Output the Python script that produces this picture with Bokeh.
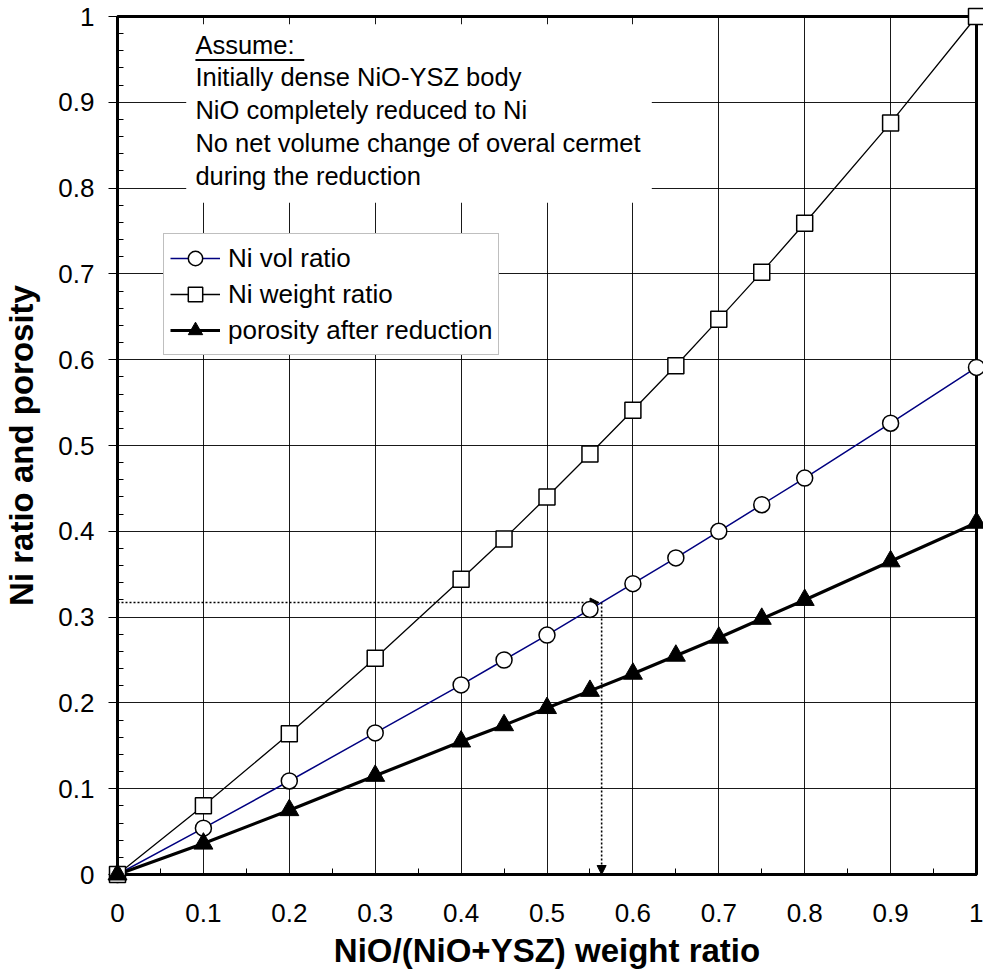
from bokeh.plotting import figure
from bokeh.models import (Range1d, FixedTicker, Legend, LegendItem, BoxAnnotation,
                          Label, Arrow, NormalHead)
from bokeh.embed import file_html
from bokeh.resources import INLINE

# ---- data ----
nio_wt = [0, 0.1, 0.2, 0.3, 0.4, 0.45, 0.5, 0.55, 0.6, 0.65, 0.7, 0.75, 0.8, 0.9, 1.0]
ni_vol_ratio = [0, 0.054, 0.109, 0.165, 0.221, 0.250, 0.279, 0.309, 0.339, 0.369,
                0.400, 0.431, 0.462, 0.526, 0.591]
ni_weight_ratio = [0, 0.080, 0.164, 0.252, 0.344, 0.391, 0.440, 0.490, 0.541, 0.593,
                   0.647, 0.702, 0.759, 0.876, 1.0]
porosity = [0, 0.036, 0.075, 0.115, 0.155, 0.174, 0.194, 0.214, 0.234, 0.255,
            0.276, 0.298, 0.320, 0.365, 0.410]

series_names = ["Ni vol ratio", "Ni weight ratio", "porosity after reduction"]

x_ticks = [0, 0.1, 0.2, 0.3, 0.4, 0.5, 0.6, 0.7, 0.8, 0.9, 1.0]
x_tick_labels = ["0", "0.1", "0.2", "0.3", "0.4", "0.5", "0.6", "0.7", "0.8", "0.9", "1"]
x_minor = [0.05, 0.15, 0.25, 0.35, 0.45, 0.55, 0.65, 0.75, 0.85, 0.95]
y_ticks = [0, 0.1, 0.2, 0.3, 0.4, 0.5, 0.6, 0.7, 0.8, 0.9, 1.0]
y_tick_labels = ["0", "0.1", "0.2", "0.3", "0.4", "0.5", "0.6", "0.7", "0.8", "0.9", "1"]
y_minor = [round(i * 0.02, 2) for i in range(51) if i % 5 != 0]

note_lines = ["Assume: ", "Initially dense NiO-YSZ body", "NiO completely reduced to Ni",
              "No net volume change of overal cermet", "during the reduction"]

read_y = 0.317   # dotted guide: Ni vol ratio level
read_x = 0.5636  # dotted guide: corresponding NiO weight ratio

x_title = "NiO/(NiO+YSZ) weight ratio"
y_title = "Ni ratio and porosity"

FONT = "Liberation Sans"

p = figure(width=983, height=976, output_backend="svg", toolbar_location=None,
           x_range=Range1d(0, 1), y_range=Range1d(0, 1),
           min_border_left=117, min_border_right=7, min_border_top=16, min_border_bottom=102,
           background_fill_color="white", border_fill_color="white")

p.outline_line_color = "black"
p.outline_line_width = 3

# axes
for ax, ticks, labels, minor in ((p.xaxis[0], x_ticks, x_tick_labels, x_minor),
                                 (p.yaxis[0], y_ticks, y_tick_labels, y_minor)):
    ax.ticker = FixedTicker(ticks=ticks, minor_ticks=minor)
    ax.major_label_overrides = {t: l for t, l in zip(ticks, labels)}
    ax.axis_line_width = 3
    ax.axis_line_color = "black"
    ax.major_tick_line_color = "black"
    ax.major_tick_line_width = 1
    ax.minor_tick_line_color = "black"
    ax.minor_tick_line_width = 1
    ax.minor_tick_in = 6
    ax.minor_tick_out = 0
    ax.major_label_text_font = FONT
    ax.major_label_text_font_size = "26px"
    ax.major_label_text_color = "black"
    ax.axis_label_text_font = FONT
    ax.axis_label_text_font_size = "33px"
    ax.axis_label_text_font_style = "bold"
    ax.axis_label_text_color = "black"

p.xaxis.major_tick_in = 0
p.xaxis.major_tick_out = 0
p.xaxis.major_label_standoff = 29
p.xaxis.axis_label = x_title
p.xaxis.axis_label_standoff = 7

p.yaxis.major_tick_in = 0
p.yaxis.major_tick_out = 9
p.yaxis.major_label_standoff = 14
p.yaxis.axis_label = y_title
p.yaxis.axis_label_standoff = 15

p.xgrid.ticker = FixedTicker(ticks=x_ticks)
p.ygrid.ticker = FixedTicker(ticks=y_ticks)
p.grid.grid_line_color = "black"
p.grid.grid_line_width = 1
p.grid.grid_line_alpha = 0.9

# series
vol_line = p.line(nio_wt, ni_vol_ratio, line_color="#000080", line_width=1.5)
vol_pts = p.scatter(nio_wt, ni_vol_ratio, marker="circle", size=16, fill_color="white",
                    line_color="black", line_width=1.5, level="overlay")
wt_line = p.line(nio_wt, ni_weight_ratio, line_color="black", line_width=1.3)
wt_pts = p.scatter(nio_wt, ni_weight_ratio, marker="square", size=16, fill_color="white",
                   line_color="black", line_width=1.5, level="overlay")
por_line = p.line(nio_wt, porosity, line_color="black", line_width=3.2)
por_pts = p.scatter(nio_wt, porosity, marker="triangle", size=19, fill_color="black",
                    line_color="black", line_width=1, level="overlay")

legend = Legend(items=[
    LegendItem(label=series_names[0], renderers=[vol_line, vol_pts]),
    LegendItem(label=series_names[1], renderers=[wt_line, wt_pts]),
    LegendItem(label=series_names[2], renderers=[por_line, por_pts]),
], location=(46, 519), margin=0, padding=6, spacing=0,
    glyph_width=50, glyph_height=36, label_height=36, label_standoff=8,
    label_text_font=FONT, label_text_font_size="26px", label_text_color="black",
    border_line_color="#808080", border_line_width=1,
    background_fill_color="white", background_fill_alpha=1.0)
p.add_layout(legend, "center")

# assumption note box
p.add_layout(BoxAnnotation(left=0.080, right=0.622, top=0.991, bottom=0.783,
                           fill_color="white", fill_alpha=1.0, line_alpha=0))
note_x = 0.0907
note_baselines = [0.967, 0.929, 0.891, 0.852, 0.814]
for txt, yb in zip(note_lines, note_baselines):
    p.add_layout(Label(x=note_x, y=yb, text=txt, text_font=FONT, text_font_size="25.5px",
                       text_color="black", text_baseline="alphabetic", text_align="left"))
p.add_layout(BoxAnnotation(left=note_x, right=0.2174, top=0.9505, bottom=0.948,
                           fill_color="black", fill_alpha=1.0, line_alpha=0))

# dotted read-off guide
p.add_layout(Arrow(end=NormalHead(size=9, fill_color="black", line_color="black", line_width=1),
                   x_start=0, y_start=read_y, x_end=read_x - 0.003, y_end=read_y,
                   line_color="black", line_width=1.6, line_dash="2 2"))
p.add_layout(Arrow(end=NormalHead(size=9, fill_color="black", line_color="black", line_width=1),
                   x_start=read_x, y_start=read_y, x_end=read_x, y_end=0,
                   line_color="black", line_width=1.6, line_dash="2 2"))

open("out.html", "w").write(file_html(p, INLINE))
